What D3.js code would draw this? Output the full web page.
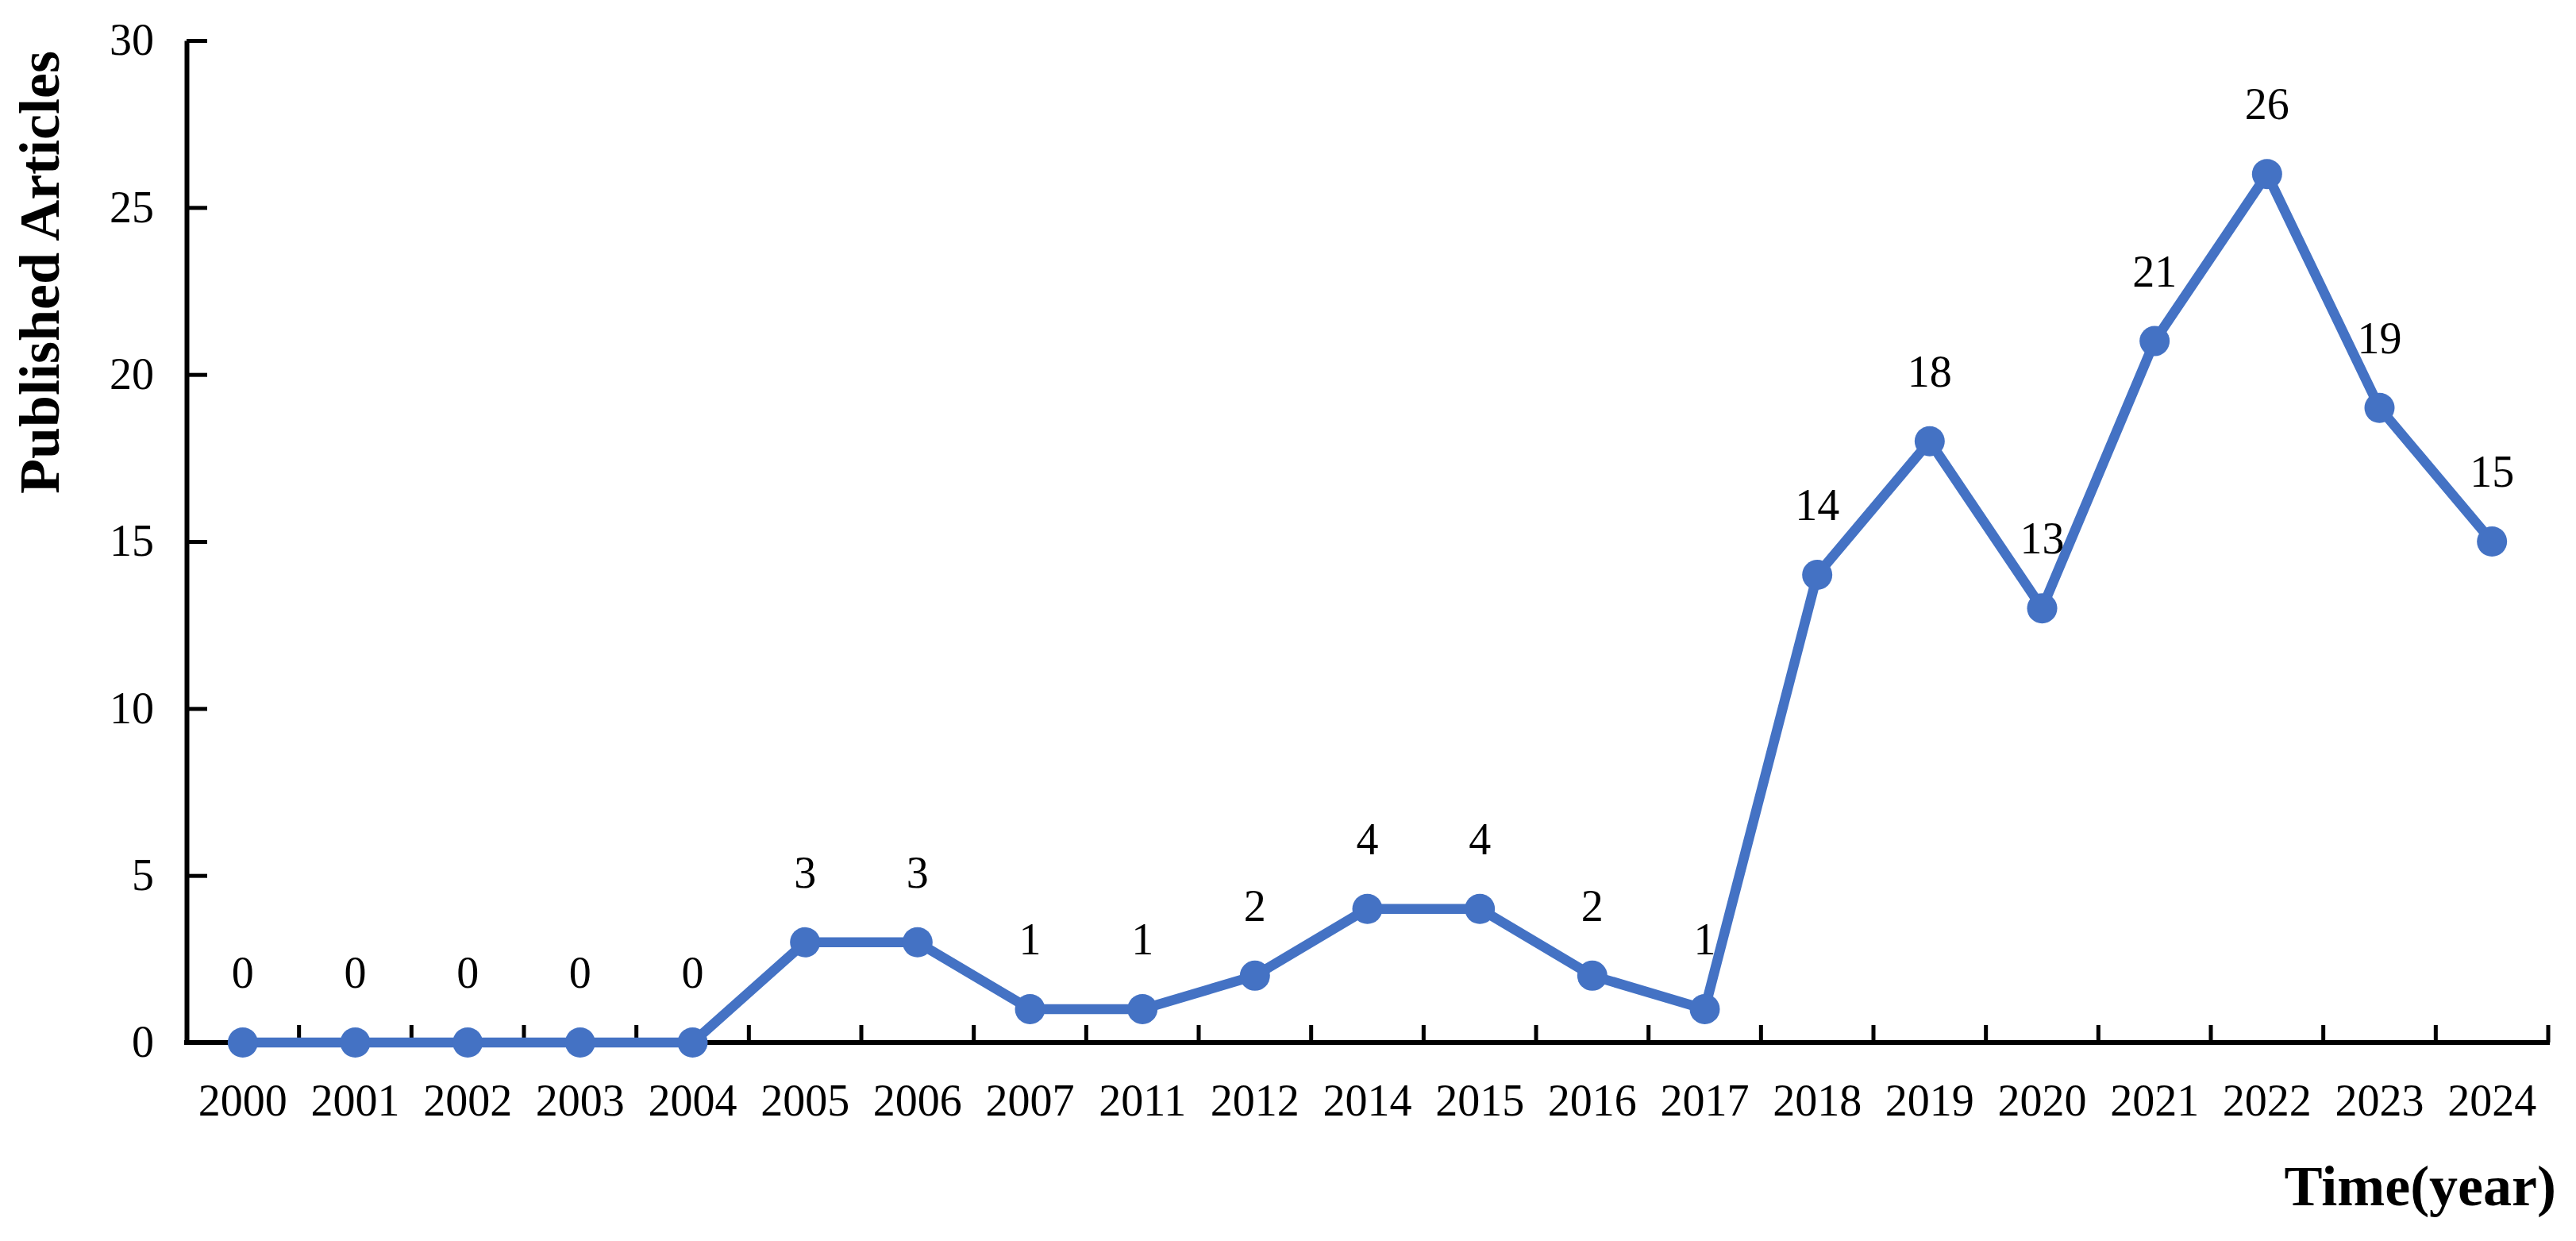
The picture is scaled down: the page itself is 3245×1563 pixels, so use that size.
<!DOCTYPE html>
<html>
<head>
<meta charset="utf-8">
<script src="https://cdn.jsdelivr.net/npm/d3@7"></script>
<style>
  html, body { margin: 0; padding: 0; background: #ffffff; }
  svg { display: block; }
  text { font-family: "Liberation Serif", "Times New Roman", serif; fill: #000; }
</style>
</head>
<body>
<script>
// ---- data ----
const years = ["2000","2001","2002","2003","2004","2005","2006","2007","2011","2012","2014","2015","2016","2017","2018","2019","2020","2021","2022","2023","2024"];
const articles = [0,0,0,0,0,3,3,1,1,2,4,4,2,1,14,18,13,21,26,19,15];
const yTicks = [0,5,10,15,20,25,30];
const xTitle = "Time(year)";
const yTitle = "Published Articles";

// ---- layout ----
const W = 3245, H = 1563;
const plotLeft = 235, plotRight = 3210, plotTop = 51, plotBottom = 1313;
const lineColor = "#4472C4";

const svg = d3.select("body").append("svg")
  .attr("width", W).attr("height", H)
  .attr("viewBox", `0 0 ${W} ${H}`);

const x = d3.scaleBand().domain(years).range([plotLeft, plotRight]).padding(0);
const y = d3.scaleLinear().domain([0, 30]).range([plotBottom, plotTop]);
const cx = d => x(d) + x.bandwidth() / 2;

// ---- y axis ----
const yAxis = svg.append("g")
  .attr("transform", `translate(${plotLeft},0)`)
  .call(d3.axisLeft(y).tickValues(yTicks).tickSize(-26).tickSizeOuter(0).tickPadding(41));
yAxis.select(".domain").attr("stroke", "#000").attr("stroke-width", 6);
yAxis.selectAll(".tick line").attr("stroke", "#000").attr("stroke-width", 5);
yAxis.selectAll(".tick text")
  .attr("font-size", 56)
  .attr("font-family", "Liberation Serif, Times New Roman, serif")
  .attr("fill", "#000");

// ---- x axis ----
const xAxis = svg.append("g")
  .attr("transform", `translate(0,${plotBottom})`)
  .call(d3.axisBottom(x).tickSize(0).tickSizeOuter(0).tickPadding(52));
xAxis.select(".domain").attr("stroke", "#000").attr("stroke-width", 6)
  .attr("d", `M${plotLeft - 3},0H${plotRight + 2}`);
xAxis.selectAll(".tick text")
  .attr("font-size", 56)
  .attr("font-family", "Liberation Serif, Times New Roman, serif")
  .attr("fill", "#000");

// tick marks at category boundaries (between categories), pointing up into the plot
const boundaries = years.slice(1).map(d => x(d)).concat([x(years[years.length - 1]) + x.bandwidth()]);
svg.append("g").selectAll("line")
  .data(boundaries)
  .join("line")
  .attr("x1", d => d).attr("x2", d => d)
  .attr("y1", plotBottom).attr("y2", plotBottom - 22)
  .attr("stroke", "#000").attr("stroke-width", 5);

// ---- line + markers ----
const data = years.map((d, i) => ({ year: d, v: articles[i] }));
const line = d3.line().x(d => cx(d.year)).y(d => y(d.v));

svg.append("path")
  .datum(data)
  .attr("d", line)
  .attr("fill", "none")
  .attr("stroke", lineColor)
  .attr("stroke-width", 12.5)
  .attr("stroke-linejoin", "round");

svg.append("g").selectAll("circle")
  .data(data)
  .join("circle")
  .attr("cx", d => cx(d.year))
  .attr("cy", d => y(d.v))
  .attr("r", 19)
  .attr("fill", lineColor);

// ---- data labels ----
svg.append("g").selectAll("text")
  .data(data)
  .join("text")
  .attr("x", d => cx(d.year))
  .attr("y", d => y(d.v) - 69)
  .attr("text-anchor", "middle")
  .attr("font-size", 56)
  .text(d => d.v);

// ---- axis titles ----
svg.append("text")
  .attr("x", 3220).attr("y", 1518)
  .attr("text-anchor", "end")
  .attr("font-size", 72)
  .attr("font-weight", "bold")
  .text(xTitle);

svg.append("text")
  .attr("transform", "translate(74,343) rotate(-90)")
  .attr("text-anchor", "middle")
  .attr("font-size", 72)
  .attr("font-weight", "bold")
  .text(yTitle);
</script>
</body>
</html>
